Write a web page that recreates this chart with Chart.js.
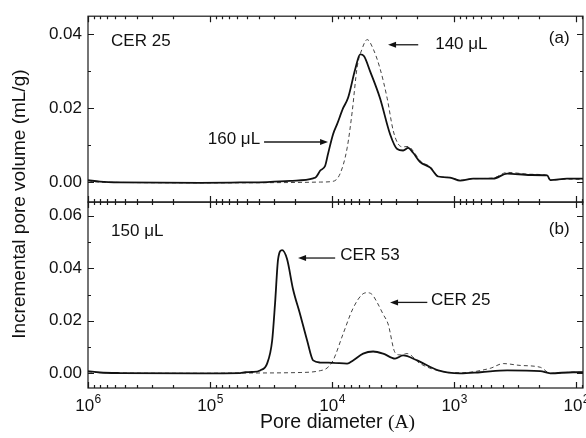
<!DOCTYPE html>
<html>
<head>
<meta charset="utf-8">
<script src="https://cdn.jsdelivr.net/npm/chart.js@4.4.1/dist/chart.umd.min.js"></script>
<style>
  html, body { margin: 0; padding: 0; background: #fff; }
  #wrap { width: 586px; height: 438px; }
</style>
</head>
<body>
<div id="wrap"><canvas id="chart" width="586" height="438"></canvas></div>
<script>
// pore diameter in Angstrom, incremental pore volume in mL/g
// panel (a): CER 25, 160 uL (solid) and 140 uL (dashed)
const diamA160 = [1000000, 798000, 547000, 121000, 56800, 34100, 22100, 14300, 13500, 12500, 11400, 10800, 9820, 9100, 8130, 7400, 6470, 5890, 5470, 4890, 4050, 3350, 2930, 2620, 2380, 2170, 1900, 1570, 1350, 1080, 893, 698, 479, 368, 238, 173, 163, 119, 88];
const volA160  = [0.0006, 0.0002, 0.0000, -0.0001, 0.0000, 0.0001, 0.0004, 0.0011, 0.0015, 0.0032, 0.0045, 0.0077, 0.0130, 0.0157, 0.0200, 0.0228, 0.0305, 0.0345, 0.0340, 0.0300, 0.0227, 0.0130, 0.0090, 0.0086, 0.0093, 0.0080, 0.0055, 0.0040, 0.0016, 0.0013, 0.0005, 0.0010, 0.0010, 0.0024, 0.0020, 0.0019, 0.0006, 0.0010, 0.0010];

const diamA140 = [1000000, 798000, 547000, 121000, 18300, 12500, 9820, 8590, 7530, 6850, 6240, 5680, 5160, 4610, 4050, 3540, 3160, 2880, 2620, 2380, 2170, 1900, 1570, 1350, 1080, 893, 698, 479, 368, 238, 173, 163, 119, 88];
const volA140  = [0.0004, 0.0001, 0.0000, -0.0001, 0.0000, 0.0001, 0.0003, 0.0024, 0.0093, 0.0190, 0.0310, 0.0360, 0.0385, 0.0360, 0.0307, 0.0227, 0.0140, 0.0104, 0.0096, 0.0097, 0.0085, 0.0058, 0.0042, 0.0017, 0.0013, 0.0006, 0.0010, 0.0012, 0.0027, 0.0022, 0.0019, 0.0006, 0.0009, 0.0008];

// panel (b): 150 uL, CER 53 (solid) and CER 25 (dashed)
const diamB53 = [1000000, 798000, 547000, 121000, 56800, 51600, 45300, 38900, 34100, 31000, 29300, 27700, 25700, 23400, 20900, 18300, 16000, 14300, 12500, 9820, 7530, 6730, 5570, 4610, 3820, 3050, 2620, 2010, 1350, 893, 612, 368, 197, 163, 106, 88];
const volB53  = [0.0008, 0.0003, 0.0001, 0.0000, 0.0001, 0.0004, 0.0005, 0.0011, 0.0037, 0.0124, 0.0270, 0.0435, 0.0469, 0.0435, 0.0320, 0.0225, 0.0124, 0.0049, 0.0041, 0.0040, 0.0037, 0.0049, 0.0075, 0.0083, 0.0075, 0.0056, 0.0068, 0.0049, 0.0011, 0.0000, 0.0004, 0.0011, 0.0008, 0.0000, 0.0004, 0.0004];

const diamB25 = [1000000, 547000, 121000, 56800, 18300, 12500, 11000, 9820, 8130, 6730, 5680, 5160, 4700, 4280, 3820, 3480, 3050, 2770, 2430, 1900, 1350, 893, 507, 396, 288, 197, 163, 106, 88];
const volB25  = [0.0005, 0.0001, 0.0000, 0.0001, 0.0003, 0.0010, 0.0020, 0.0049, 0.0150, 0.0248, 0.0300, 0.0307, 0.0300, 0.0270, 0.0225, 0.0188, 0.0079, 0.0070, 0.0075, 0.0037, 0.0010, 0.0002, 0.0019, 0.0037, 0.0030, 0.0023, 0.0000, 0.0004, 0.0004];

// axes
const xRange = [88, 1000000];
const xDecades = [1000000, 100000, 10000, 1000, 100];
const yRangeA = [-0.0053, 0.0448];
const yRangeB = [-0.0056, 0.0652];
const yTicksA = [0, 0.02, 0.04];
const yTicksB = [0, 0.02, 0.04, 0.06];
const yMinorA = [0.01, 0.03];
const yMinorB = [0.01, 0.03, 0.05];

// labels: [panel, diameter, value, text, align]
const panelTexts = [
  ['yA', 647000, 0.0379, 'CER 25', 'left'],
  ['yA', 138, 0.0388, '(a)', 'center'],
  ['yA', 1430, 0.0371, '140 \u03bcL', 'left'],
  ['yA', 38900, 0.0117, '160 \u03bcL', 'right'],
  ['yB', 647000, 0.0540, '150 \u03bcL', 'left'],
  ['yB', 138, 0.0548, '(b)', 'center'],
  ['yB', 8590, 0.0448, 'CER 53', 'left'],
  ['yB', 1550, 0.0278, 'CER 25', 'left']
];
// arrows: [panel, from diameter, to diameter (tip), value]
const arrows = [
  ['yA', 1970, 3480, 0.0371],
  ['yA', 36100, 10800, 0.0109],
  ['yB', 9440, 19000, 0.0439],
  ['yB', 1660, 3350, 0.0270]
];

const FONT = "'Liberation Sans', Arial, Helvetica, sans-serif";

function pts(xs, ys) {
  return xs.map((x, i) => ({ x: x, y: ys[i] }));
}

const framePlugin = {
  id: 'frame',
  afterDraw(chart) {
    const ctx = chart.ctx;
    const xs = chart.scales.x;
    const area = chart.chartArea;
    const minorX = [];
    [100000, 10000, 1000, 100, 10].forEach(d => {
      for (let k = 2; k <= 9; k++) {
        const v = k * d;
        if (v >= xRange[0] && v <= xRange[1]) minorX.push(v);
      }
    });

    ctx.save();
    ctx.strokeStyle = '#1a1a1a';
    ctx.lineWidth = 1.2;
    const panels = [['yA', yTicksA, yMinorA], ['yB', yTicksB, yMinorB]];
    panels.forEach(([id, major, minor]) => {
      const ys = chart.scales[id];
      const top = ys.top, bottom = ys.bottom;
      ctx.strokeRect(area.left, top, area.right - area.left, bottom - top);
      ctx.beginPath();
      major.forEach(v => {
        const p = Math.round(ys.getPixelForValue(v)) + 0.5;
        ctx.moveTo(area.left, p); ctx.lineTo(area.left + 6, p);
        ctx.moveTo(area.right, p); ctx.lineTo(area.right - 6, p);
      });
      minor.forEach(v => {
        const p = Math.round(ys.getPixelForValue(v)) + 0.5;
        ctx.moveTo(area.left, p); ctx.lineTo(area.left + 3, p);
        ctx.moveTo(area.right, p); ctx.lineTo(area.right - 3, p);
      });
      xDecades.forEach(v => {
        const p = Math.round(xs.getPixelForValue(v)) + 0.5;
        ctx.moveTo(p, top); ctx.lineTo(p, top + 6);
        ctx.moveTo(p, bottom); ctx.lineTo(p, bottom - 6);
      });
      minorX.forEach(v => {
        const p = Math.round(xs.getPixelForValue(v)) + 0.5;
        ctx.moveTo(p, top); ctx.lineTo(p, top + 3);
        ctx.moveTo(p, bottom); ctx.lineTo(p, bottom - 3);
      });
      ctx.stroke();
    });

    // x tick labels 10^n
    ctx.fillStyle = '#111';
    ctx.textBaseline = 'alphabetic';
    ctx.textAlign = 'left';
    xDecades.forEach(v => {
      const px = xs.getPixelForValue(v);
      const exp = String(Math.round(Math.log10(v)));
      ctx.font = '17px ' + FONT;
      const w1 = ctx.measureText('10').width;
      ctx.font = '12px ' + FONT;
      const w2 = ctx.measureText(exp).width;
      const sx = px - (w1 + w2) / 2;
      ctx.font = '17px ' + FONT;
      ctx.fillText('10', sx, area.bottom + 23);
      ctx.font = '12px ' + FONT;
      ctx.fillText(exp, sx + w1 + 0.5, area.bottom + 15);
    });

    // x title
    ctx.font = '19.5px ' + FONT;
    const t1 = 'Pore diameter ';
    const w1 = ctx.measureText(t1).width;
    ctx.font = '19.5px "Liberation Serif", "Times New Roman", serif';
    const t2 = '(A)';
    const w2 = ctx.measureText(t2).width;
    const cx = (area.left + area.right) / 2 + 2;
    ctx.font = '19.5px ' + FONT;
    ctx.fillText(t1, cx - (w1 + w2) / 2, area.bottom + 40);
    ctx.font = '19.5px "Liberation Serif", "Times New Roman", serif';
    ctx.fillText(t2, cx - (w1 + w2) / 2 + w1, area.bottom + 40);

    // y title
    ctx.save();
    ctx.translate(20, (area.top + area.bottom) / 2 + 2);
    ctx.rotate(-Math.PI / 2);
    ctx.textAlign = 'center';
    ctx.textBaseline = 'middle';
    ctx.font = '19px ' + FONT;
    ctx.fillText('Incremental pore volume (mL/g)', 0, 0);
    ctx.restore();

    // panel texts
    ctx.font = '17px ' + FONT;
    ctx.textBaseline = 'middle';
    panelTexts.forEach(([id, d, v, txt, align]) => {
      ctx.textAlign = align;
      ctx.fillText(txt, xs.getPixelForValue(d), chart.scales[id].getPixelForValue(v));
    });

    // arrows
    ctx.lineWidth = 1.3;
    arrows.forEach(([id, from, to, v]) => {
      const y = chart.scales[id].getPixelForValue(v);
      const x0 = xs.getPixelForValue(from);
      const x1 = xs.getPixelForValue(to);
      const dir = Math.sign(x1 - x0);
      ctx.beginPath();
      ctx.moveTo(x0, y); ctx.lineTo(x1 - dir * 6, y);
      ctx.stroke();
      ctx.beginPath();
      ctx.moveTo(x1, y);
      ctx.lineTo(x1 - dir * 8, y - 3);
      ctx.lineTo(x1 - dir * 8, y + 3);
      ctx.closePath();
      ctx.fill();
    });
    ctx.restore();
  }
};

const yCommon = {
  type: 'linear',
  position: 'left',
  stack: 'panels',
  stackWeight: 1,
  offset: false,
  grid: { display: false, drawTicks: false, tickLength: 0 },
  border: { display: false },
  ticks: {
    padding: 6,
    color: '#111',
    font: { family: FONT, size: 17 },
    callback: v => v.toFixed(2)
  },
  afterFit: scale => { scale.width = 88; }
};

new Chart(document.getElementById('chart'), {
  type: 'line',
  data: {
    datasets: [
      { label: '160 \u03bcL', data: pts(diamA160, volA160), yAxisID: 'yA', borderColor: '#111', borderWidth: 1.8 },
      { label: '140 \u03bcL', data: pts(diamA140, volA140), yAxisID: 'yA', borderColor: '#444', borderWidth: 1, borderDash: [4, 3] },
      { label: 'CER 53', data: pts(diamB53, volB53), yAxisID: 'yB', borderColor: '#111', borderWidth: 1.8 },
      { label: 'CER 25', data: pts(diamB25, volB25), yAxisID: 'yB', borderColor: '#444', borderWidth: 1, borderDash: [4, 3] }
    ]
  },
  options: {
    responsive: false,
    animation: false,
    devicePixelRatio: 1,
    layout: { padding: { left: 0, right: 3, top: 15, bottom: 50 } },
    elements: {
      point: { radius: 0 },
      line: { cubicInterpolationMode: 'monotone', fill: false }
    },
    plugins: { legend: { display: false }, tooltip: { enabled: false } },
    scales: {
      x: {
        type: 'logarithmic',
        min: xRange[0],
        max: xRange[1],
        reverse: true,
        display: false
      },
      // the stack is laid out bottom-up, so the lower panel is listed first
      yB: Object.assign({}, yCommon, {
        min: yRangeB[0], max: yRangeB[1],
        afterBuildTicks: s => { s.ticks = yTicksB.map(v => ({ value: v })); }
      }),
      yA: Object.assign({}, yCommon, {
        min: yRangeA[0], max: yRangeA[1],
        afterBuildTicks: s => { s.ticks = yTicksA.map(v => ({ value: v })); }
      })
    }
  },
  plugins: [framePlugin]
});
</script>
</body>
</html>
